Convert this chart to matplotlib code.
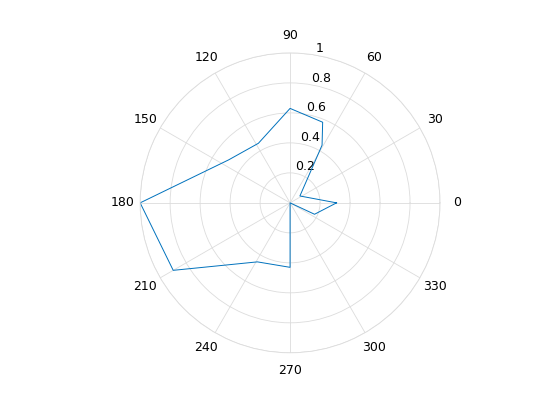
import numpy as np
import matplotlib.pyplot as plt

theta_deg = [0, -25, 0, 270, 241, 210, 180, 145, 118, 90, 68, 61, 35, 0]
rho = [0.31, 0.18, 0.0, 0.43, 0.45, 0.9, 1.0, 0.5, 0.45, 0.63, 0.58, 0.44, 0.08, 0.31]

fig = plt.figure(figsize=(5.6, 4.2), dpi=100)
ax = fig.add_axes([0.25, 0.16, 0.536, 0.714], projection='polar')
ax.plot(np.deg2rad(theta_deg), rho, color='#0072BD', lw=0.7)
ax.set_ylim(0, 1)
ax.set_thetagrids(range(0, 360, 30), [str(a) for a in range(0, 360, 30)], fontsize=9)
ax.set_rgrids([0.2, 0.4, 0.6, 0.8, 1.0], ['0.2', '0.4', '0.6', '0.8', '1'], angle=80, fontsize=9)
ax.grid(color='#dcdcdc', lw=0.6)
ax.spines['polar'].set_color('#dcdcdc')
ax.spines['polar'].set_linewidth(0.6)
ax.tick_params(axis='x', pad=2)
fig.savefig('out.png', dpi=100)
